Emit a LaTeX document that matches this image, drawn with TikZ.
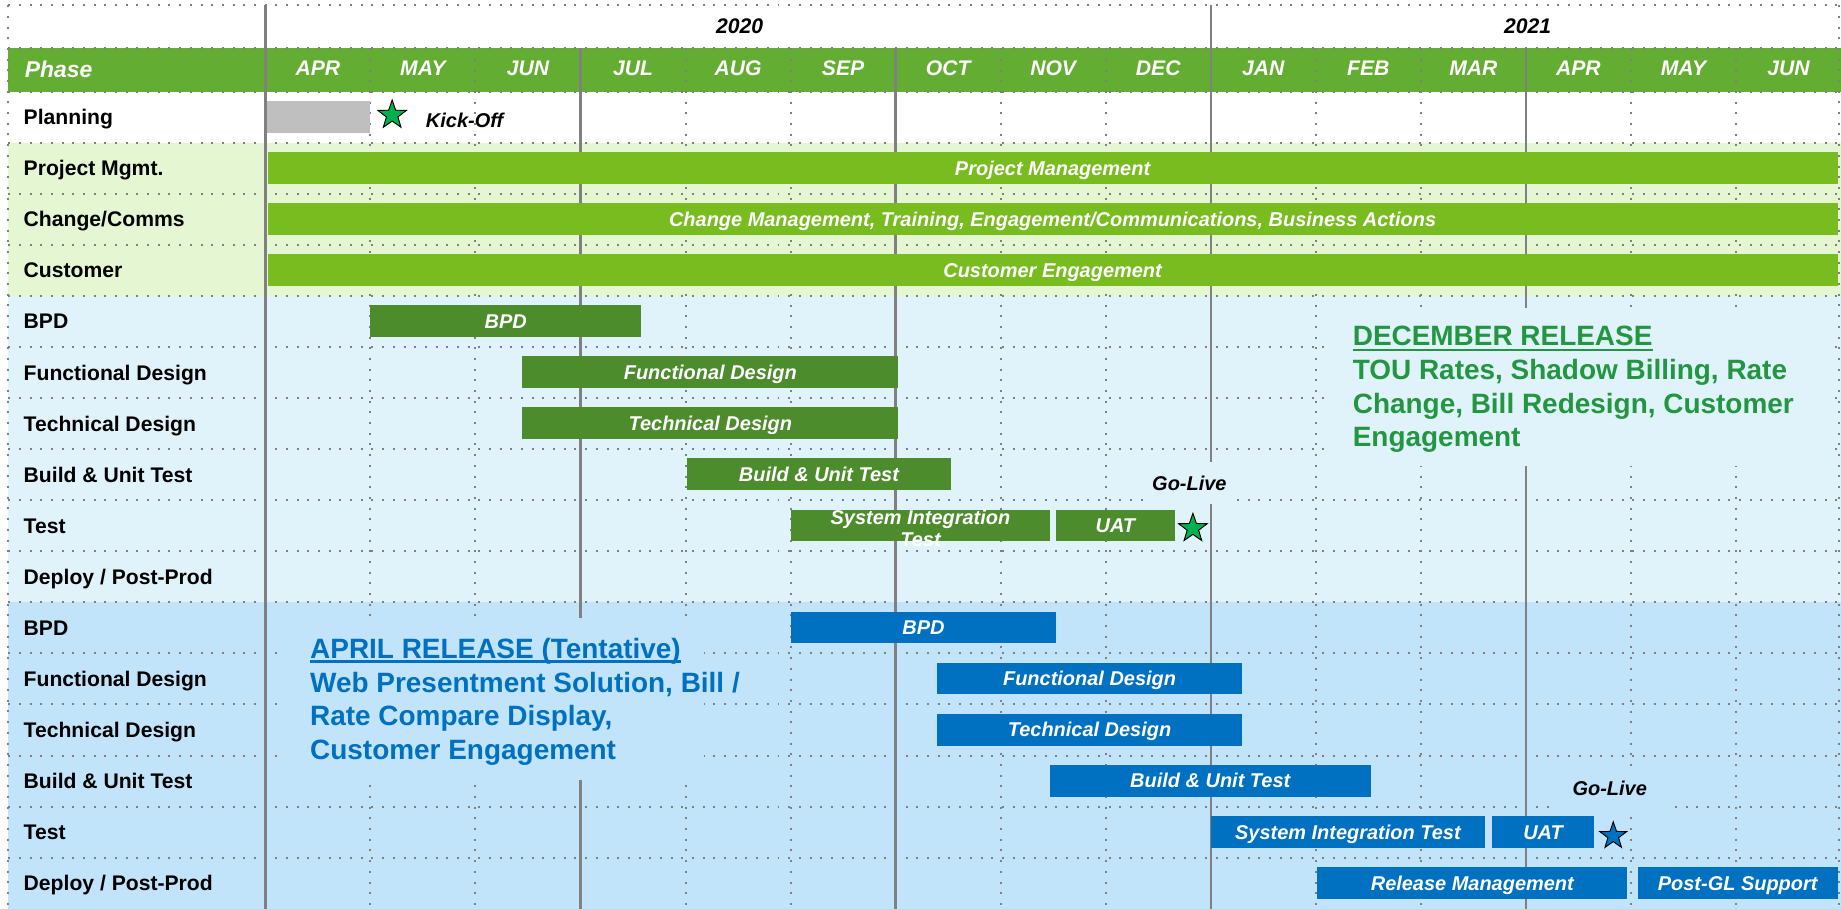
\documentclass[tikz,border=0pt]{standalone}
\usepackage{fontspec}
\setmainfont{Liberation Sans}
\usetikzlibrary{shapes.geometric}
\definecolor{hdrgreen}{RGB}{99,173,50}
\definecolor{lgreen}{RGB}{229,246,211}
\definecolor{lblueA}{RGB}{224,242,250}
\definecolor{lblueB}{RGB}{194,228,251}
\definecolor{barlg}{RGB}{120,188,32}
\definecolor{bardg}{RGB}{77,140,44}
\definecolor{barblue}{RGB}{0,112,192}
\definecolor{decgreen}{RGB}{34,150,64}
\definecolor{aprblue}{RGB}{0,112,192}
\definecolor{stargreen}{RGB}{0,176,80}
\definecolor{gridgray}{RGB}{128,128,128}
\definecolor{plangray}{RGB}{191,191,191}
\tikzset{
  dotgrid/.style={draw=gridgray, line width=1.7pt, dash pattern=on 1.7pt off 7.4pt},
  solidgrid/.style={draw=gridgray, line width=2pt},
  barbox/.style={rectangle, inner sep=0pt, minimum height=27pt, text=white,
    font=\fontsize{17}{19.2}\selectfont\bfseries\itshape, text height=12.2pt, text depth=0pt},
  bartxt/.style={inner sep=0pt, text=white, font=\fontsize{17}{19.2}\selectfont\bfseries\itshape},
  rowlab/.style={inner sep=0pt, anchor=base west, text=black, font=\fontsize{18}{21}\selectfont\bfseries},
  monthtxt/.style={inner sep=0pt, anchor=base, text=white, font=\fontsize{18}{21}\selectfont\bfseries\itshape},
  yeartxt/.style={inner sep=0pt, anchor=base, text=black, font=\fontsize{18}{21}\selectfont\bfseries\itshape},
  blacklab/.style={inner sep=0pt, text=black, font=\fontsize{17}{19.2}\selectfont\bfseries\itshape},
  golive/.style={blacklab, text height=12.2pt, text depth=0pt, minimum height=36pt, inner xsep=6pt},
  dectxt/.style={inner sep=0pt, anchor=base west, text=decgreen, font=\fontsize{23.8}{28.7}\selectfont\bfseries},
  aprtxt/.style={inner sep=0pt, anchor=base west, text=aprblue, font=\fontsize{23.8}{28.7}\selectfont\bfseries},
  milestone/.style={star, star points=5, star point ratio=2.5, minimum size=25.6pt, inner sep=0pt, draw=black, line width=0.8pt},
}
\newcommand\gbar[6]{%
  \pgfmathsetmacro\gbW{#3-#2}\pgfmathsetmacro\gbX{(#2+#3)/2}\pgfmathsetmacro\gbY{99.5+43.5*#4}%
  \node[barbox, fill=#5, minimum width=\gbW pt] (#1) at (\gbX,\gbY) {#6};}
\begin{document}
\begin{tikzpicture}[x=1pt,y=-1pt]
\useasboundingbox (0,0) rectangle (1568,774.2);
\fill[white] (0,0) rectangle (1568,774.2);
% backgrounds
\fill[hdrgreen] (7,41) rectangle (1568,78);
\fill[lgreen] (7,121.5) rectangle (1568,252);
\fill[lblueA] (7,252) rectangle (1568,513);
\fill[lblueB] (7,513) rectangle (1568,774.2);
% dotted grid
\foreach \yy in {4.5,41,78,121.5,165,208.5,252,295.5,339,382.5,426,469.5,513,556.5,600,643.5,687,730.5}
  \draw[dotgrid] (7,\yy) -- (1568,\yy);
\draw[dotgrid] (7,4.5) -- (7,774.2);
\draw[dotgrid] (1566.5,4.5) -- (1566.5,774.2);
\foreach \m in {1,2,4,5,7,8,10,11,13,14}
  \draw[dotgrid] ({226+89.467*\m},41) -- ({226+89.467*\m},774.2);
% solid lines
\draw[solidgrid] (226,4.5) -- (226,774.2);
\draw[solidgrid] (1031.5,4.5) -- (1031.5,774.2);
\foreach \m in {3,6,12}
  \draw[solidgrid] ({226+89.467*\m},41) -- ({226+89.467*\m},774.2);
% header
\node[inner sep=0pt, anchor=base west, text=white, font=\fontsize{19.5}{22}\selectfont\bfseries\itshape] (phase) at (21,66) {Phase};
\foreach \mn [count=\i from 0] in {APR,MAY,JUN,JUL,AUG,SEP,OCT,NOV,DEC,JAN,FEB,MAR,APR,MAY,JUN}
  \node[monthtxt] (m\i) at ({226+89.467*(\i+0.5)},64.7) {\mn};
\node[yeartxt] (y2020) at (630,28.4) {2020};
\node[yeartxt] (y2021) at (1301,28.4) {2021};
% row labels
\foreach \lab [count=\i from 0] in {Planning,Project Mgmt.,Change/Comms,Customer,BPD,Functional Design,Technical Design,Build \& Unit Test,Test,Deploy / Post-Prod,BPD,Functional Design,Technical Design,Build \& Unit Test,Test,Deploy / Post-Prod}
  \node[rowlab] (r\i) at (20,{99.75+43.5*\i+6.45}) {\lab};
% release text boxes
\fill[lblueA] (1134,262) rectangle (1557,397);
\node[dectxt] (dech) at (1152,294.4) {DECEMBER RELEASE};
\draw[decgreen, line width=2pt] ([yshift=-3.6pt]dech.base west) -- ([yshift=-3.6pt]dech.base east);
\node[dectxt] (dec1) at (1152,323.1) {TOU Rates, Shadow Billing, Rate};
\node[dectxt] (dec2) at (1152,351.8) {Change, Bill Redesign, Customer};
\node[dectxt] (dec3) at (1152,380.5) {Engagement};
\fill[lblueB] (243,526) rectangle (600,664);
\node[aprtxt] (aprh) at (264,560.7) {APRIL RELEASE (Tentative)};
\draw[aprblue, line width=2pt] ([yshift=-2.8pt]aprh.base west) -- ([yshift=-2.8pt]aprh.base east);
\node[aprtxt] (apr1) at (264,589.4) {Web Presentment Solution, Bill /};
\node[aprtxt] (apr2) at (264,618.1) {Rate Compare Display,};
\node[aprtxt] (apr3) at (264,646.8) {Customer Engagement};
% planning
\node[fill=plangray, inner sep=0pt, minimum width=88.5pt, minimum height=27pt] (plan) at (271.25,99.5) {};
\node[milestone, fill=stargreen] (kstar) at (334,98) {};
\node[blacklab, anchor=base] (ko) at (395.7,108.4) {Kick-Off};
% bars
\gbar{pm}{228}{1565}{1}{barlg}{Project Management}
\gbar{cc}{228}{1565}{2}{barlg}{Change Management, Training, Engagement/Communications, Business Actions}
\gbar{ce}{228}{1565}{3}{barlg}{Customer Engagement}
\gbar{gbpd}{315.5}{546}{4}{bardg}{BPD}
\gbar{gfd}{445}{765}{5}{bardg}{Functional Design}
\gbar{gtd}{445}{765}{6}{bardg}{Technical Design}
\gbar{gbut}{585}{810}{7}{bardg}{Build \& Unit Test}
\gbar{gsit}{674}{894}{8}{bardg}{}
\node[bartxt, align=center, anchor=north] (gsitt) at (784,433.9) {System Integration\\Test};
\gbar{guat}{899}{1001}{8}{bardg}{UAT}
\node[golive, fill=lblueA] (gl1) at (1013,411.6) {Go-Live};
\node[milestone, fill=stargreen] (gstar) at (1016,450) {};
\gbar{bbpd}{674}{899}{10}{barblue}{BPD}
\gbar{bfd}{798}{1058}{11}{barblue}{Functional Design}
\gbar{btd}{798}{1058}{12}{barblue}{Technical Design}
\gbar{bbut}{894}{1167.5}{13}{barblue}{Build \& Unit Test}
\gbar{bsit}{1031}{1265}{14}{barblue}{System Integration Test}
\gbar{buat}{1270.5}{1358}{14}{barblue}{UAT}
\gbar{brm}{1122}{1386}{15}{barblue}{Release Management}
\gbar{bpgl}{1395}{1565}{15}{barblue}{Post-GL Support}
\node[golive, fill=lblueB, inner xsep=20pt] (gl2) at (1371,671.4) {Go-Live};
\node[milestone, fill=barblue, minimum size=24pt] (bstar) at (1374,712) {};
\end{tikzpicture}
\end{document}
